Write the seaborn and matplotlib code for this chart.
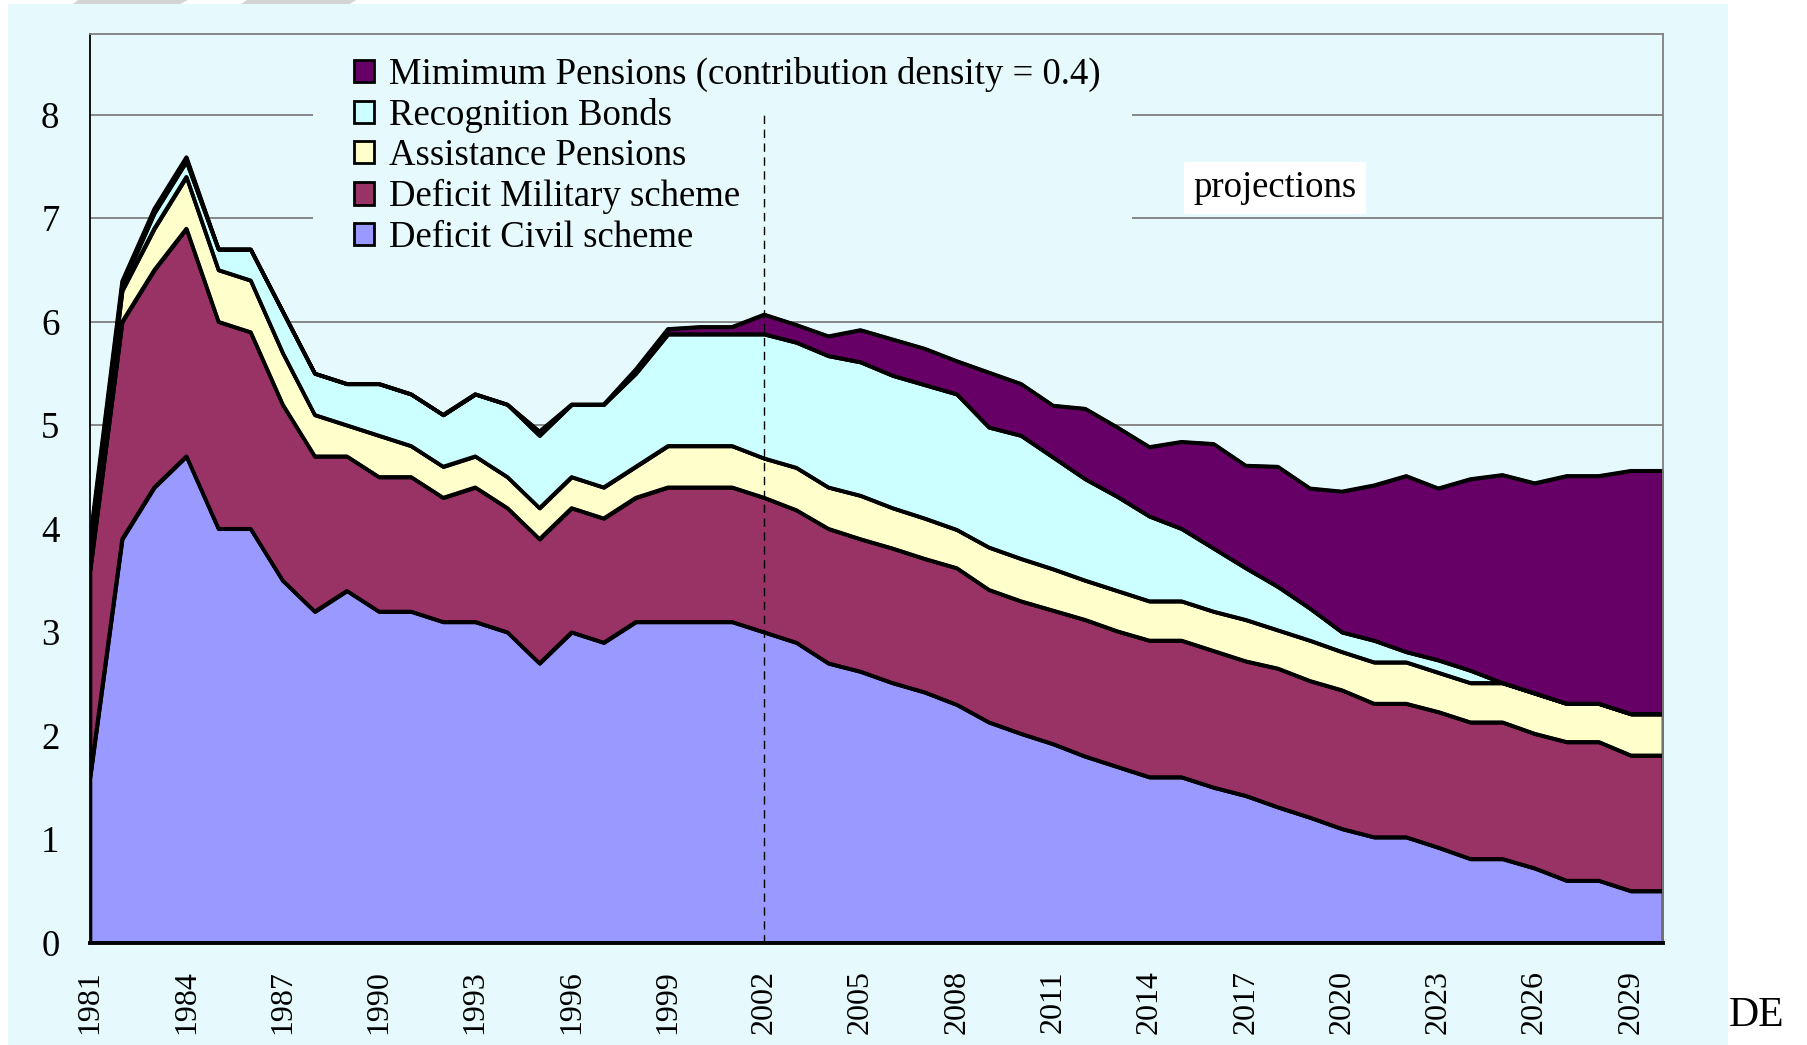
import numpy as np
import pandas as pd
import matplotlib
matplotlib.use("Agg")
import matplotlib.pyplot as plt
import seaborn as sns
from matplotlib.patches import Patch, Rectangle, Polygon

# ---------------- data ----------------
years = list(range(1981, 2031))

civil = [1.6, 3.9, 4.4, 4.7, 4.0, 4.0, 3.5, 3.2, 3.4, 3.2,
         3.2, 3.1, 3.1, 3.0, 2.7, 3.0, 2.9, 3.1, 3.1, 3.1,
         3.1, 3.0, 2.9, 2.7, 2.62, 2.51, 2.42, 2.3, 2.13, 2.02,
         1.92, 1.8, 1.7, 1.6, 1.6, 1.5, 1.42, 1.31, 1.21, 1.1,
         1.02, 1.02, 0.92, 0.81, 0.81, 0.72, 0.6, 0.6, 0.5, 0.5]
military = [2.0, 2.1, 2.1, 2.2, 2.0, 1.9, 1.7, 1.5, 1.3, 1.3,
            1.3, 1.2, 1.3, 1.2, 1.2, 1.2, 1.2, 1.2, 1.3, 1.3,
            1.3, 1.3, 1.28, 1.3, 1.28, 1.3, 1.29, 1.32, 1.28, 1.28,
            1.29, 1.32, 1.31, 1.32, 1.32, 1.32, 1.3, 1.34, 1.32, 1.34,
            1.29, 1.29, 1.31, 1.32, 1.32, 1.3, 1.34, 1.34, 1.31, 1.31]
assistance = [0.15, 0.3, 0.4, 0.5, 0.5, 0.5, 0.5, 0.4, 0.3, 0.4,
              0.3, 0.3, 0.3, 0.3, 0.3, 0.3, 0.3, 0.3, 0.4, 0.4,
              0.4, 0.38, 0.41, 0.4, 0.42, 0.39, 0.39, 0.37, 0.41, 0.41,
              0.4, 0.38, 0.39, 0.38, 0.38, 0.38, 0.4, 0.37, 0.39, 0.37,
              0.4, 0.4, 0.38, 0.38, 0.38, 0.39, 0.37, 0.37, 0.4, 0.4]
recognition = [0.1, 0.05, 0.15, 0.15, 0.2, 0.3, 0.4, 0.4, 0.4, 0.5,
               0.5, 0.5, 0.6, 0.7, 0.7, 0.7, 0.8, 0.9, 1.08, 1.08,
               1.08, 1.2, 1.21, 1.27, 1.29, 1.28, 1.29, 1.31, 1.16, 1.19,
               1.08, 0.98, 0.91, 0.82, 0.7, 0.61, 0.5, 0.42, 0.31, 0.19,
               0.21, 0.1, 0.12, 0.12, 0.0, 0.0, 0.0, 0.0, 0.0, 0.0]
minimum = [0.05, 0.04, 0.04, 0.04, 0.0, 0.0, 0.0, 0.0, 0.0, 0.0,
           0.0, 0.0, 0.0, 0.0, 0.04, 0.0, 0.0, 0.04, 0.05, 0.07,
           0.07, 0.19, 0.17, 0.19, 0.31, 0.35, 0.35, 0.32, 0.53, 0.5,
           0.5, 0.68, 0.67, 0.67, 0.84, 1.01, 0.99, 1.16, 1.16, 1.36,
           1.5, 1.7, 1.66, 1.85, 2.01, 2.03, 2.2, 2.2, 2.35, 2.35]

series_names = ["Deficit Civil scheme", "Deficit Military scheme",
                "Assistance Pensions", "Recognition Bonds",
                "Mimimum Pensions (contribution density = 0.4)"]
series_colors = ["#9999FF", "#993366", "#FFFFCC", "#CCFFFF", "#660066"]
y_ticks = [0, 1, 2, 3, 4, 5, 6, 7, 8]
x_label_years = list(range(1981, 2030, 3))
projection_start = 2002

# long-form table with stacked bounds
series_values = [civil, military, assistance, recognition, minimum]
rows = []
lower = np.zeros(len(years))
for name, vals in zip(series_names, series_values):
    upper = lower + np.array(vals)
    for yr, lo, up in zip(years, lower, upper):
        rows.append({"year": yr, "series": name, "lower": lo, "upper": up})
    lower = upper
df = pd.DataFrame(rows)

# ---------------- style ----------------
sns.set_theme(style="white")
plt.rcParams["font.family"] = ["Liberation Serif", "DejaVu Serif"]
for k in ["text.color", "axes.labelcolor", "xtick.color", "ytick.color"]:
    plt.rcParams[k] = "black"

W, H = 1807, 1045
BG = "#E6FAFD"
FS = 26.5
LW = 2.6
fig = plt.figure(figsize=(W / 100, H / 100), dpi=100)
fig.patch.set_facecolor("white")

# page background
fig.patches.append(Rectangle((8 / W, 0), (1728 - 8) / W, 1 - 4 / H,
                             transform=fig.transFigure, facecolor=BG,
                             edgecolor="none", zorder=-2))
# grey stripes at top
for (x0, x1, b0, b1) in [(78, 188, 73, 180), (247, 356, 241, 350)]:
    fig.patches.append(Polygon([(x0 / W, 1), (x1 / W, 1), (b1 / W, 1 - 4 / H), (b0 / W, 1 - 4 / H)],
                               closed=True, transform=fig.transFigure,
                               facecolor="#D4D4D4", edgecolor="none", zorder=-1))

left, right = 90 / W, 1663 / W
bottom, top = 1 - 942.7 / H, 1 - 34 / H
ax = fig.add_axes([left, bottom, right - left, top - bottom])
ax.set_facecolor(BG)

# gridlines
for v in y_ticks[1:]:
    ax.axhline(v, color="#7F7F7F", lw=1.3, zorder=1)

# legend background that interrupts the gridlines
ax.add_patch(Rectangle((313 / W, 1 - 262 / H), (1132 - 313) / W, (262 - 42) / H,
                       transform=fig.transFigure, facecolor=BG, edgecolor="none",
                       zorder=1.5, clip_on=False))

# stacked areas
for name, color in zip(series_names, series_colors):
    d = df[df["series"] == name]
    ax.fill_between(d["year"], d["lower"], d["upper"], facecolor=color,
                    edgecolor="black", linewidth=LW, zorder=2)
# outlines of cumulative bounds via seaborn
sns.lineplot(data=df, x="year", y="upper", hue="series",
             palette=["black"] * len(series_names), legend=False,
             linewidth=LW, ax=ax, zorder=3)

# projection divider
ax.vlines(projection_start, 0, 8, colors="black", linestyles=(0, (6, 4)),
          linewidth=1.0, zorder=4)

ax.set_xlim(years[0], years[-1])
ax.set_ylim(0, 8.78)
ax.set_xticks(years)
ax.set_xticklabels([str(y) if y in x_label_years else "" for y in years],
                   rotation=90, fontsize=23)
ax.set_yticks(y_ticks)
ax.set_yticklabels([str(v) for v in y_ticks], fontsize=FS)
ax.tick_params(axis="both", direction="out", length=9, width=1.2, color="black")
ax.tick_params(axis="x", pad=11)
ax.tick_params(axis="y", pad=13)
ax.set_xlabel("")
ax.set_ylabel("")

for s in ["top", "right"]:
    ax.spines[s].set_color("#7F7F7F")
    ax.spines[s].set_linewidth(1.3)
ax.spines["left"].set_color("black")
ax.spines["left"].set_linewidth(1.3)
ax.spines["bottom"].set_color("black")
ax.spines["bottom"].set_linewidth(2.8)
for s in ax.spines.values():
    s.set_zorder(5)

# legend
handles = [Patch(facecolor=c, edgecolor="black", linewidth=2)
           for c in reversed(series_colors)]
leg = fig.legend(handles, list(reversed(series_names)), loc="upper left",
                 bbox_to_anchor=(354 / W, 1 - 57 / H), frameon=False,
                 fontsize=FS, handlelength=0.55, handleheight=0.55,
                 handletextpad=0.4, labelspacing=0.16, borderpad=0,
                 borderaxespad=0)

# projections label
fig.text(1275 / W, 1 - 188 / H, "projections", fontsize=FS, ha="center",
         va="center", bbox=dict(boxstyle="square,pad=0.25", facecolor="white",
                                edgecolor="none"))
fig.text(1757 / W, 1 - 1016 / H, "DE", fontsize=30, ha="center", va="center")

fig.savefig("out.png", dpi=100, facecolor="white")
